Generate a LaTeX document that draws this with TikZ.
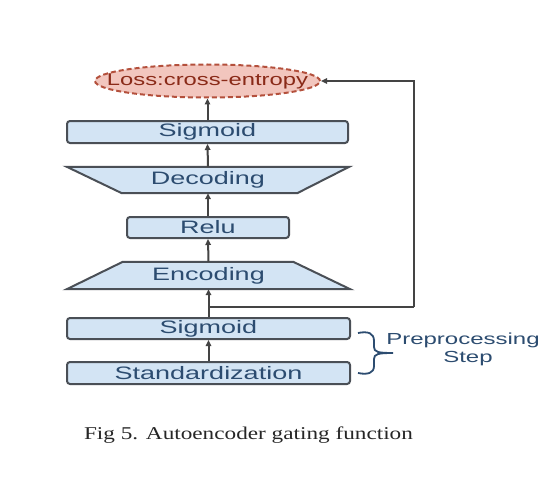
\documentclass[tikz,border=0pt]{standalone}
\usepackage{fontspec}
\setmainfont{Liberation Sans}
\newfontfamily\capfont{Liberation Serif}
\usetikzlibrary{shapes.geometric,backgrounds,arrows.meta}
\definecolor{boxfill}{HTML}{D3E4F4}
\definecolor{boxline}{HTML}{4A4F56}
\definecolor{boxtext}{HTML}{2C4C70}
\definecolor{lossfill}{HTML}{F2C6BE}
\definecolor{lossline}{HTML}{B4503C}
\definecolor{losstext}{HTML}{8A2A18}
\definecolor{arrowcol}{HTML}{444444}
\tikzset{
  layer/.style={draw=boxline, fill=boxfill, line width=2pt, rounded corners=3pt, inner sep=0pt, text=boxtext, font=\fontsize{18}{18}\selectfont},
  trapbox/.style={inner sep=0pt, text=boxtext, font=\fontsize{18}{18}\selectfont},
  trapdraw/.style={draw=boxline, fill=boxfill, line width=2pt},
  arr/.style={draw=arrowcol, line width=2pt, -{Triangle[length=6pt,width=5.5pt]}},
  fb/.style={draw=arrowcol, line width=2pt},
}
\newcommand{\wide}[1]{\scalebox{1.5}[1]{#1}}
\begin{document}
\begin{tikzpicture}[x=1pt,y=-1pt]
\useasboundingbox (0,0) rectangle (560,503);
% loss
\node[ellipse, draw=lossline, fill=lossfill, dashed, dash pattern=on 5pt off 3pt, line width=2pt, minimum width=225pt, minimum height=33pt, inner sep=0pt] (loss) at (207.5,81) {};
\node[text=losstext, font=\fontsize{17}{17}\selectfont, inner sep=0pt] (losslabel) at (loss.center) {\scalebox{1.4}[1]{Loss:cross-entropy}};
% layers
\node[layer, minimum width=281pt, minimum height=22pt] (sig2) at (207.5,132) {\wide{Sigmoid}};
\node[trapbox, minimum width=282pt, minimum height=26pt] (dec) at (208,180) {\wide{Decoding}};
\node[layer, minimum width=162pt, minimum height=21pt] (relu) at (208,227.5) {\wide{Relu}};
\node[trapbox, minimum width=283pt, minimum height=27pt] (enc) at (208.5,275.5) {\wide{Encoding}};
\node[layer, minimum width=283pt, minimum height=21pt] (sig1) at (208.5,328.5) {\wide{Sigmoid}};
\node[layer, minimum width=283pt, minimum height=22pt] (std) at (208.5,373) {\wide{Standardization}};
\begin{pgfonlayer}{background}
\fill[white] (0,0) rectangle (560,503);
\draw[trapdraw] (dec.north west) -- (dec.north east) -- ([xshift=-52pt]dec.south east) -- ([xshift=55pt]dec.south west) -- cycle;
\draw[trapdraw] ([xshift=56pt]enc.north west) -- ([xshift=-57pt]enc.north east) -- (enc.south east) -- (enc.south west) -- cycle;
\end{pgfonlayer}
% arrows
\draw[arr] (std.north) -- (sig1.south);
\draw[arr] (sig1.north) -- (enc.south);
\draw[arr] (enc.north) -- (relu.south);
\draw[arr] (relu.north) -- (dec.south);
\draw[arr] (dec.north) -- (sig2.south);
\draw[arr] (sig2.north) -- (loss.south);
% feedback
\coordinate (fbstart) at (208.5,307);
\coordinate (fbcorner) at (414,307);
\draw[fb] (fbstart) -- (fbcorner);
\draw[arr] (fbcorner) |- (loss.east);
% brace
\draw[boxtext, line width=1.8pt] (358,333) .. controls (368,331) and (374,333) .. (374,341) -- (374,347) .. controls (374,352) and (378,353) .. (393,353)
  .. controls (378,353) and (374,354) .. (374,359) -- (374,366) .. controls (374,373) and (368,375) .. (358,373);
\node[text=boxtext, font=\fontsize{16}{16}\selectfont, inner sep=0pt] (pre) at (463,340) {\wide{Preprocessing}};
\node[text=boxtext, font=\fontsize{16}{16}\selectfont, inner sep=0pt] (step) at (468,359) {\wide{Step}};
% caption
\node[text=black!85, font=\capfont\fontsize{18}{18}\selectfont, inner sep=0pt] (cap) at (248.5,435) {\scalebox{1.29}[1]{Fig 5. Autoencoder gating function}};
\end{tikzpicture}
\end{document}
